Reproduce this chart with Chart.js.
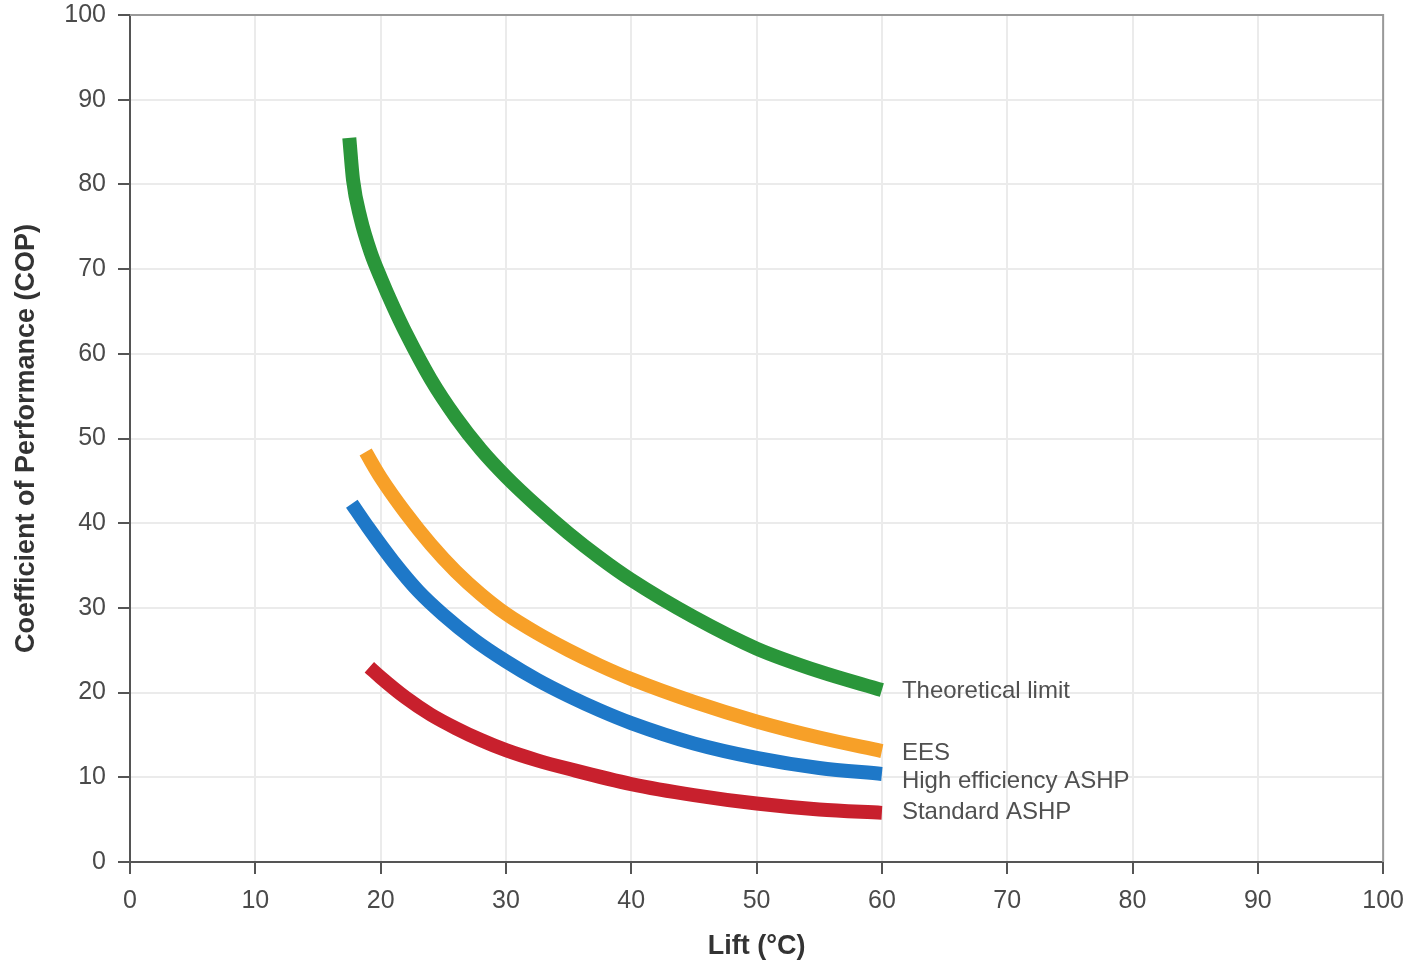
<!DOCTYPE html>
<html>
<head>
<meta charset="utf-8">
<script src="https://cdn.jsdelivr.net/npm/chart.js@4"></script>
<style>
  html, body { margin: 0; padding: 0; background: #fff; }
  #wrap { width: 1416px; height: 967px; }
</style>
</head>
<body>
<div id="wrap"><canvas id="copChart" width="1416" height="967"></canvas></div>
<script>
// values (lift in °C, COP)
const theoreticalX = [17.5, 17.8, 18.4, 19.2, 20, 21, 22, 24, 26, 28, 30, 32.5, 35, 37.5, 40, 45, 50, 55, 60];
const theoreticalY = [85.5, 80.5, 76, 72, 69, 65.6, 62.5, 57, 52.5, 48.7, 45.5, 42, 38.8, 35.9, 33.3, 28.9, 25.2, 22.5, 20.3];

const eesX = [18.8, 20, 22, 24, 26, 28, 30, 32.5, 35, 37.5, 40, 45, 50, 55, 60];
const eesY = [48.4, 45.4, 41.2, 37.5, 34.3, 31.6, 29.3, 27, 25, 23.2, 21.6, 18.9, 16.6, 14.7, 13.1];

const highEffX = [17.7, 19, 21, 23, 25, 27.5, 30, 32.5, 35, 37.5, 40, 45, 50, 55, 60];
const highEffY = [42.3, 39.5, 35.5, 32, 29.2, 26.2, 23.7, 21.5, 19.6, 17.9, 16.4, 14, 12.3, 11.1, 10.4];

const standardX = [19.1, 20, 22, 24, 26, 28, 30, 32.5, 35, 40, 45, 50, 55, 60];
const standardY = [23, 21.8, 19.4, 17.4, 15.8, 14.4, 13.2, 12, 11, 9.2, 7.9, 6.9, 6.2, 5.8];

const seriesNames = ['Theoretical limit', 'EES', 'High efficiency ASHP', 'Standard ASHP'];
const seriesColors = ['rgb(42, 150, 58)', 'rgb(247, 160, 40)', 'rgb(30, 120, 200)', 'rgb(200, 32, 45)'];
const labelNudge = [1, 2, 7, 0];

const xTicks = [0, 10, 20, 30, 40, 50, 60, 70, 80, 90, 100];
const yTicks = [0, 10, 20, 30, 40, 50, 60, 70, 80, 90, 100];

function toPoints(xs, ys) {
    return xs.map((x, i) => ({ x: x, y: ys[i] }));
}

const allSeries = [
    toPoints(theoreticalX, theoreticalY),
    toPoints(eesX, eesY),
    toPoints(highEffX, highEffY),
    toPoints(standardX, standardY)
];

const font = "'Liberation Sans', Arial, sans-serif";

// light box on top/right plus the end labels
const endLabels = {
    id: 'endLabels',
    afterDatasetsDraw(chart) {
        const ctx = chart.ctx;
        const area = chart.chartArea;
        ctx.save();
        ctx.strokeStyle = '#999';
        ctx.lineWidth = 2;
        ctx.beginPath();
        ctx.moveTo(area.left, area.top);
        ctx.lineTo(area.right, area.top);
        ctx.lineTo(area.right, area.bottom);
        ctx.stroke();

        ctx.font = '24px ' + font;
        ctx.fillStyle = '#505050';
        ctx.textBaseline = 'middle';
        ctx.textAlign = 'left';
        chart.data.datasets.forEach((ds, i) => {
            const last = ds.data[ds.data.length - 1];
            const px = chart.scales.x.getPixelForValue(last.x) + 20;
            const py = chart.scales.y.getPixelForValue(last.y) + labelNudge[i];
            ctx.fillText(seriesNames[i], px, py);
        });
        ctx.restore();
    }
};

const ctx = document.getElementById('copChart').getContext('2d');
const chart = new Chart(ctx, {
    type: 'line',
    data: {
        datasets: allSeries.map((pts, i) => ({
            label: seriesNames[i],
            data: pts,
            borderColor: seriesColors[i],
            borderWidth: 14,
            borderCapStyle: 'butt',
            pointRadius: 0,
            fill: false,
            cubicInterpolationMode: 'monotone'
        }))
    },
    options: {
        responsive: false,
        animation: false,
        layout: {
            padding: { top: 15, right: 28, left: 0, bottom: 0 }
        },
        scales: {
            x: {
                type: 'linear',
                min: 0,
                max: 100,
                afterBuildTicks: (scale) => { scale.ticks = xTicks.map(v => ({ value: v })); },
                afterFit: (scale) => { scale.height = 105; },
                grid: {
                    color: '#ebebeb',
                    lineWidth: 2,
                    tickColor: '#555',
                    tickLength: 12,
                    tickWidth: 2
                },
                border: { color: '#555', width: 2 },
                ticks: {
                    color: '#4a4a4a',
                    padding: 12,
                    maxRotation: 0,
                    font: { family: font, size: 25 }
                },
                title: {
                    display: true,
                    text: 'Lift (°C)',
                    color: '#333',
                    padding: { top: 2 },
                    font: { family: font, size: 27, weight: 'bold' }
                }
            },
            y: {
                min: 0,
                max: 100,
                afterBuildTicks: (scale) => { scale.ticks = yTicks.map(v => ({ value: v })); },
                afterFit: (scale) => {
                    scale.width = 130;
                    scale.paddingTop = 0;
                    scale.paddingBottom = 0;
                },
                grid: {
                    color: '#ebebeb',
                    lineWidth: 2,
                    tickColor: '#555',
                    tickLength: 12,
                    tickWidth: 2
                },
                border: { color: '#555', width: 2 },
                ticks: {
                    color: '#4a4a4a',
                    padding: 12,
                    font: { family: font, size: 25 }
                },
                title: {
                    display: true,
                    text: 'Coefficient of Performance (COP)',
                    color: '#333',
                    padding: { top: 10, bottom: 0 },
                    font: { family: font, size: 27, weight: 'bold' }
                }
            }
        },
        plugins: {
            legend: { display: false },
            tooltip: { enabled: false }
        }
    },
    plugins: [endLabels]
});
</script>
</body>
</html>
